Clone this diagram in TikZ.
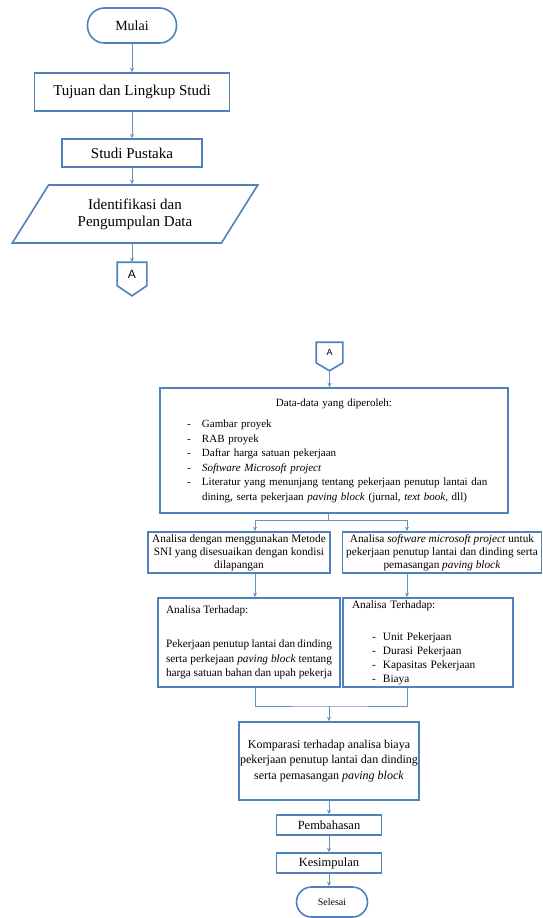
\documentclass[tikz,border=0pt]{standalone}
\usepackage{fontspec}
\setmainfont{Liberation Serif}
\newfontfamily\arial{Liberation Sans}
\usetikzlibrary{shapes.geometric,arrows.meta}

\definecolor{biru}{RGB}{79,129,189}
\definecolor{panah}{RGB}{105,145,195}

% butir daftar: posisi tanda, posisi teks, teks
\newcommand{\butir}[3]{\par\noindent\hangindent=#2\hangafter=1%
  \makebox[#2][l]{\hspace*{#1}-}#3\par}

\begin{document}
\begin{tikzpicture}[x=1pt, y=-1pt, >={Stealth[length=4.5pt,width=4pt]}]
\useasboundingbox (0,0) rectangle (543,918);

% Nodos Inicio
\begin{scope}[
		every node/.style = {draw = biru, line width = 1.6pt,
		fill = white, align = center,
		font = \fontsize{15}{17}\selectfont}]
	\node[rounded corners = 17pt, minimum width = 89pt, minimum height = 35pt,
		font = \fontsize{14}{16}\selectfont] (mulai) at (132,25.5) {Mulai};
	\node[minimum width = 195pt, minimum height = 38pt] (tujuan) at (132,92) {Tujuan dan Lingkup Studi};
	\node[minimum width = 140pt, minimum height = 28pt] (pustaka) at (132,153) {Studi Pustaka};
	\node[trapezium, trapezium left angle = 52, trapezium right angle = 128,
		trapezium stretches = true, minimum width = 246pt, minimum height = 58pt,
		inner sep = 0pt] (identifikasi) at (135,214) {Identifikasi dan\\Pengumpulan Data};
	\node[draw = none, fill = none, minimum width = 28pt, minimum height = 22pt,
		inner sep = 0pt, font = \arial\fontsize{12}{12}\selectfont] (konA) at (132,274) {A};
	\draw[biru, line width = 1.6pt] (konA.north west) -- (konA.north east) -- (konA.south east)
		-- ([yshift = -10pt]konA.south) -- (konA.south west) -- cycle;
\end{scope}

% Nodos Analisa
\begin{scope}[
		every node/.style = {draw = biru, line width = 1.6pt,
		fill = white, align = center, inner sep = 1pt,
		font = \fontsize{11.3}{13}\selectfont}]
	\node[draw = none, fill = none, minimum width = 25pt, minimum height = 19pt,
		inner sep = 0pt, font = \arial\fontsize{9}{9}\selectfont] (konB) at (329.5,352.5) {A};
	\draw[biru, line width = 1.6pt] (konB.north west) -- (konB.north east) -- (konB.south east)
		-- ([yshift = -8pt]konB.south) coordinate (ujungB) -- (konB.south west) -- cycle;
	\node[minimum width = 348pt, minimum height = 125pt, text width = 328pt,
		align = left, font = \fontsize{11}{14.5}\selectfont] (data) at (334,450.5) {%
		{\centering Data-data yang diperoleh:\par}\vspace{7pt}
		\butir{17pt}{32pt}{Gambar proyek}
		\butir{17pt}{32pt}{RAB proyek}
		\butir{17pt}{32pt}{Daftar harga satuan pekerjaan}
		\butir{17pt}{32pt}{\textit{Software Microsoft project}}
		\butir{17pt}{32pt}{Literatur yang menunjang tentang pekerjaan penutup lantai dan dining, serta pekerjaan \textit{paving block} (jurnal, \textit{text book}, dll)}};
	\node[minimum width = 182pt, minimum height = 41pt] (sni) at (239,552.5)
		{Analisa dengan menggunakan Metode\\SNI yang disesuaikan dengan kondisi\\dilapangan};
	\node[minimum width = 199pt, minimum height = 41pt] (msp) at (442,552.5)
		{Analisa \textit{software microsoft project} untuk\\pekerjaan penutup lantai dan dinding serta\\pemasangan \textit{paving block}};
	\node[minimum width = 182pt, minimum height = 89pt, text width = 166pt,
		align = justify, font = \fontsize{11.3}{14.5}\selectfont] (hasilsni) at (249,642.5) {%
		Analisa Terhadap:\par\vspace{20pt}
		Pekerjaan penutup lantai dan dinding\linebreak serta perkejaan \textit{paving block} tentang\linebreak harga satuan bahan dan upah pekerja};
	\node[minimum width = 170pt, minimum height = 89pt, text width = 152pt,
		align = left, font = \fontsize{11.3}{14}\selectfont] (hasilmsp) at (428,642.5) {%
		Analisa Terhadap:\par\vspace{18pt}
		\butir{20pt}{31pt}{Unit Pekerjaan}
		\butir{20pt}{31pt}{Durasi Pekerjaan}
		\butir{20pt}{31pt}{Kapasitas Pekerjaan}
		\butir{20pt}{31pt}{Biaya}};
	\node[minimum width = 180pt, minimum height = 78pt,
		font = \fontsize{12}{15.5}\selectfont] (komparasi) at (329,761)
		{Komparasi terhadap analisa biaya\\pekerjaan penutup lantai dan dinding\\serta pemasangan \textit{paving block}};
	\node[minimum width = 105pt, minimum height = 20pt,
		font = \fontsize{12.5}{14}\selectfont] (bahas) at (329,825) {Pembahasan};
	\node[minimum width = 105pt, minimum height = 20pt,
		font = \fontsize{12.5}{14}\selectfont] (simpul) at (329,863) {Kesimpulan};
	\node[rounded corners = 15pt, minimum width = 71pt, minimum height = 30pt,
		font = \fontsize{10}{12}\selectfont] (selesai) at (332,902) {Selesai};
\end{scope}

% Paths
\begin{scope}[
	    every edge/.style = {draw = panah, line width = .8pt, ->}]
	\path (mulai) edge (tujuan);
	\path (tujuan) edge (pustaka);
	\path (pustaka) edge (pustaka |- identifikasi.north);
	\path (konA |- identifikasi.south) edge (konA.north);
	\path (ujungB) edge (ujungB |- data.north);

	\coordinate (pisah) at (328,520);
	\coordinate (kiri) at (255,520);
	\coordinate (kanan) at (407,520);
	\draw[panah, line width = .8pt] (pisah |- data.south) -- (pisah);
	\draw[panah, line width = .8pt] (kiri) -- (kanan);
	\path (kiri) edge (kiri |- sni.north);
	\path (kanan) edge (kanan |- msp.north);
	\path (kiri |- sni.south) edge (kiri |- hasilsni.north);
	\path (kanan |- msp.south) edge (kanan |- hasilmsp.north);

	\coordinate (gabung) at (329,706);
	\draw[panah, line width = .8pt] (kiri |- hasilsni.south) |- (gabung) -| (kanan |- hasilmsp.south);
	\path (gabung) edge (komparasi);
	\path (komparasi) edge (bahas);
	\path (bahas) edge (simpul);
	\path (simpul.south) edge (simpul.south |- selesai.north);
\end{scope}
\end{tikzpicture}
\end{document}
